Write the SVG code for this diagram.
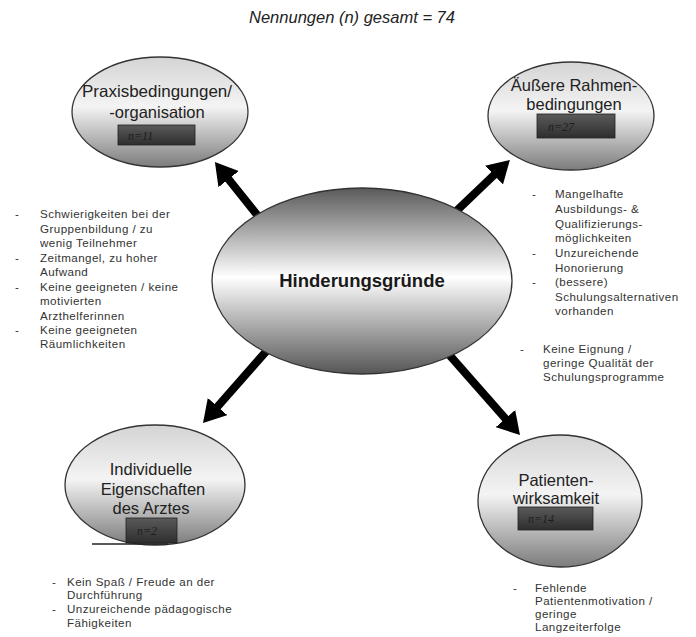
<svg xmlns="http://www.w3.org/2000/svg" width="696" height="637" viewBox="0 0 696 637">
<style>
  .title{font-family:"Liberation Sans",Arial,sans-serif;font-size:16.5px;font-style:italic;fill:#222}
  .node{stroke:#333;stroke-width:1.3;fill:url(#gOuter)}
  .center{stroke:#333;stroke-width:1.3;fill:url(#gCenter)}
  .lbl{font-family:"Liberation Sans",Arial,sans-serif;font-size:16.5px;fill:#222;text-anchor:middle}
  .clbl{font-family:"Liberation Sans",Arial,sans-serif;font-size:18.5px;font-weight:bold;fill:#1a1a1a;text-anchor:middle}
  .box{fill:url(#gBox);stroke:#222;stroke-width:0.8}
  .n{font-family:"Liberation Serif","Times New Roman",serif;font-size:12px;font-style:italic;fill:#1e1e1e}
  .b{font-family:"Liberation Sans",Arial,sans-serif;font-size:11.6px;letter-spacing:0.45px;fill:#333}
  .arrow{stroke:#000;stroke-width:8;fill:none;marker-end:url(#head)}
</style>
<defs>
  <linearGradient id="gCenter" x1="0" y1="0" x2="0" y2="1">
    <stop offset="0" stop-color="#5a5a5a"/>
    <stop offset="0.48" stop-color="#ffffff"/>
    <stop offset="1" stop-color="#555555"/>
  </linearGradient>
  <linearGradient id="gOuter" x1="0" y1="0" x2="0" y2="1">
    <stop offset="0" stop-color="#d4d4d4"/>
    <stop offset="0.45" stop-color="#f4f4f4"/>
    <stop offset="1" stop-color="#7c7c7c"/>
  </linearGradient>
  <linearGradient id="gBox" x1="0" y1="0" x2="0" y2="1">
    <stop offset="0" stop-color="#5a5a5a"/>
    <stop offset="1" stop-color="#2e2e2e"/>
  </linearGradient>
  <marker id="head" viewBox="0 0 22 26" refX="1" refY="13" markerWidth="2.75" markerHeight="3.25" markerUnits="strokeWidth" orient="auto">
    <path d="M0,0 L22,13 L0,26 z" fill="#000"/>
  </marker>
</defs>
<rect width="696" height="637" fill="#fff"/>
<text class="title" x="352" y="23" text-anchor="middle">Nennungen (n) gesamt = 74</text>

<g id="connectors">
  <line class="arrow" x1="262" y1="221" x2="228" y2="178.4"/>
  <line class="arrow" x1="448" y1="219" x2="494.7" y2="174.4"/>
  <line class="arrow" x1="270" y1="347" x2="216.9" y2="407.3"/>
  <line class="arrow" x1="445" y1="350" x2="506.1" y2="419.3"/>
</g>

<g id="center-node">
  <ellipse class="center" cx="362" cy="281" rx="150" ry="93"/>
  <text class="clbl" x="362" y="287">Hinderungsgründe</text>
</g>

<g id="node-praxis">
  <ellipse class="node" cx="160" cy="112" rx="88" ry="55"/>
  <text class="lbl" x="157" y="97" textLength="150" lengthAdjust="spacingAndGlyphs">Praxisbedingungen/</text>
  <text class="lbl" x="157" y="118">-organisation</text>
  <rect class="box" x="118" y="125" width="77" height="20"/>
  <text class="n" x="128" y="140">n=11</text>
</g>

<g id="node-rahmen">
  <ellipse class="node" cx="571" cy="116" rx="83" ry="54"/>
  <text class="lbl" x="574" y="91">Äußere Rahmen-</text>
  <text class="lbl" x="574" y="110">bedingungen</text>
  <rect class="box" x="537" y="114" width="78" height="24"/>
  <text class="n" x="548" y="131">n=27</text>
</g>

<g id="node-arzt">
  <ellipse class="node" cx="155" cy="485" rx="90" ry="60"/>
  <text class="lbl" x="151" y="475">Individuelle</text>
  <text class="lbl" x="153" y="495">Eigenschaften</text>
  <text class="lbl" x="151" y="514">des Arztes</text>
  <rect class="box" x="126" y="518" width="51" height="25"/>
  <line x1="92" y1="544" x2="168" y2="544" stroke="#222" stroke-width="1.3"/>
  <text class="n" x="137" y="535">n=2</text>
</g>

<g id="node-patient">
  <ellipse class="node" cx="560" cy="501" rx="82" ry="66"/>
  <text class="lbl" x="556" y="486">Patienten-</text>
  <text class="lbl" x="556" y="504">wirksamkeit</text>
  <rect class="box" x="518" y="507" width="75" height="23"/>
  <text class="n" x="528" y="523">n=14</text>
</g>

<g id="list-praxis">
  <text class="b" x="15" y="218">-</text>
  <text class="b" x="40" y="218">Schwierigkeiten bei der</text>
  <text class="b" x="40" y="233">Gruppenbildung / zu</text>
  <text class="b" x="40" y="247">wenig Teilnehmer</text>
  <text class="b" x="15" y="262">-</text>
  <text class="b" x="40" y="262">Zeitmangel, zu hoher</text>
  <text class="b" x="40" y="276">Aufwand</text>
  <text class="b" x="15" y="291">-</text>
  <text class="b" x="40" y="291">Keine geeigneten / keine</text>
  <text class="b" x="40" y="305">motivierten</text>
  <text class="b" x="40" y="320">Arzthelferinnen</text>
  <text class="b" x="15" y="334">-</text>
  <text class="b" x="40" y="334">Keine geeigneten</text>
  <text class="b" x="40" y="348">Räumlichkeiten</text>
</g>

<g id="list-rahmen">
  <text class="b" x="532" y="198">-</text>
  <text class="b" x="555" y="198">Mangelhafte</text>
  <text class="b" x="555" y="213">Ausbildungs- &amp;</text>
  <text class="b" x="555" y="228">Qualifizierungs-</text>
  <text class="b" x="555" y="242">möglichkeiten</text>
  <text class="b" x="532" y="257">-</text>
  <text class="b" x="555" y="257">Unzureichende</text>
  <text class="b" x="555" y="272">Honorierung</text>
  <text class="b" x="532" y="286">-</text>
  <text class="b" x="555" y="286">(bessere)</text>
  <text class="b" x="555" y="301">Schulungsalternativen</text>
  <text class="b" x="555" y="315">vorhanden</text>
  <text class="b" x="520" y="353">-</text>
  <text class="b" x="543" y="353">Keine Eignung /</text>
  <text class="b" x="543" y="367">geringe Qualität der</text>
  <text class="b" x="543" y="381">Schulungsprogramme</text>
</g>

<g id="list-arzt">
  <text class="b" x="52" y="586">-</text>
  <text class="b" x="67" y="586">Kein Spaß / Freude an der</text>
  <text class="b" x="67" y="599">Durchführung</text>
  <text class="b" x="52" y="613">-</text>
  <text class="b" x="67" y="613">Unzureichende pädagogische</text>
  <text class="b" x="67" y="627">Fähigkeiten</text>
</g>

<g id="list-patient">
  <text class="b" x="513" y="592">-</text>
  <text class="b" x="535" y="592">Fehlende</text>
  <text class="b" x="535" y="605">Patientenmotivation /</text>
  <text class="b" x="535" y="618">geringe</text>
  <text class="b" x="535" y="631">Langzeiterfolge</text>
</g>
</svg>
